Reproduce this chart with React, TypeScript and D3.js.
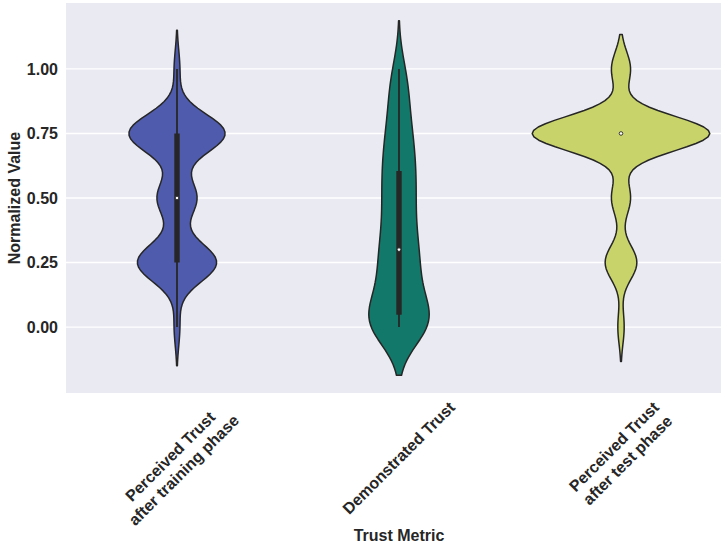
import React, { useEffect, useRef } from "react";
import * as d3 from "d3";

// categories on the x axis (newline = second line of the tick label)
const categories = [
  "Perceived Trust\nafter training phase",
  "Demonstrated Trust",
  "Perceived Trust\nafter test phase",
];

// likert answers (normalized) and how many participants picked each
const likertLevels = [0, 0.25, 0.5, 0.75, 1];
const trainingCounts = [1, 14, 7, 17, 1];
const testCounts = [1, 5, 3, 28, 3];

// demonstrated trust per participant
const demonstratedValues = [
  0, 0, 0, 0, 0, 0, 0.02, 0.03, 0.04, 0.04,
  0.05, 0.1, 0.12, 0.15, 0.18, 0.2, 0.22, 0.25, 0.28, 0.29,
  0.31, 0.35, 0.38, 0.4, 0.45, 0.48, 0.5, 0.53, 0.57, 0.6,
  0.62, 0.65, 0.7, 0.72, 0.75, 0.8, 0.85, 0.9, 0.95, 1.0,
];

const yTicks = [0, 0.25, 0.5, 0.75, 1];

const palette = ["#4f5bad", "#11786a", "#c8d36a"];
const gray = "#262626";
const font = "'Liberation Sans', Arial, Helvetica, sans-serif";

const expand = (levels: number[], counts: number[]) =>
  levels.flatMap((v, i) => d3.range(counts[i]).map(() => v));

// seaborn-ish kde: bw = factor * std, cut = 2, 100 grid points
const kde = (values: number[], bwFactor = 0.3, cut = 2, gridsize = 100) => {
  const n = values.length;
  const h = bwFactor * (d3.deviation(values) || 0);
  const lo = (d3.min(values) as number) - cut * h;
  const hi = (d3.max(values) as number) + cut * h;
  const norm = n * h * Math.sqrt(2 * Math.PI);
  return d3.range(gridsize).map((i) => {
    const v = lo + ((hi - lo) * i) / (gridsize - 1);
    const d = d3.sum(values, (x) => Math.exp(-0.5 * ((v - x) / h) ** 2)) / norm;
    return { v, d };
  });
};

const boxStats = (values: number[]) => {
  const s = values.slice().sort(d3.ascending);
  const q1 = d3.quantileSorted(s, 0.25) as number;
  const med = d3.quantileSorted(s, 0.5) as number;
  const q3 = d3.quantileSorted(s, 0.75) as number;
  const lim = 1.5 * (q3 - q1);
  const lo = d3.min(s.filter((x) => x >= q1 - lim)) as number;
  const hi = d3.max(s.filter((x) => x <= q3 + lim)) as number;
  return { q1, med, q3, lo, hi };
};

const App = () => {
  const ref: any = useRef();
  const width = 721;
  const height = 548;
  const margin = { top: 3, left: 66, bottom: 155 };
  const plotW = 666;
  const plotH = height - margin.top - margin.bottom;

  useEffect(() => {
    const svg = d3.select(ref.current);
    svg.selectAll("*").remove();

    const groups = [
      expand(likertLevels, trainingCounts),
      demonstratedValues,
      expand(likertLevels, testCounts),
    ];
    const curves = groups.map((g) => kde(g));
    const stats = groups.map(boxStats);

    const lo = d3.min(curves, (c) => c[0].v) as number;
    const hi = d3.max(curves, (c) => c[c.length - 1].v) as number;
    const pad = (hi - lo) * 0.05;

    const x = d3
      .scaleBand()
      .domain(categories)
      .range([margin.left, margin.left + plotW]);
    const y = d3
      .scaleLinear()
      .domain([lo - pad, hi + pad])
      .range([margin.top + plotH, margin.top]);

    // scale="area": widest density gets 0.8 of the band
    const maxD = d3.max(curves, (c) => d3.max(c, (p) => p.d)) as number;
    const w = d3.scaleLinear().domain([0, maxD]).range([0, x.bandwidth() * 0.4]);

    svg
      .append("rect")
      .attr("x", margin.left)
      .attr("y", margin.top)
      .attr("width", plotW)
      .attr("height", plotH)
      .attr("fill", "#eaeaf2");

    // grid
    svg
      .append("g")
      .selectAll("line")
      .data(yTicks)
      .join("line")
      .attr("x1", margin.left)
      .attr("x2", margin.left + plotW)
      .attr("y1", (d) => y(d))
      .attr("y2", (d) => y(d))
      .attr("stroke", "#ffffff")
      .attr("stroke-width", 1.3);

    // y tick labels
    svg
      .append("g")
      .selectAll("text")
      .data(yTicks)
      .join("text")
      .attr("x", margin.left - 8)
      .attr("y", (d) => y(d) + 5.7)
      .attr("text-anchor", "end")
      .attr("font-family", font)
      .attr("font-weight", "bold")
      .attr("font-size", 16)
      .attr("fill", gray)
      .text((d) => d3.format(".2f")(d));

    // violins
    categories.forEach((cat, i) => {
      const cx = (x(cat) as number) + x.bandwidth() / 2;
      const area = d3
        .area<{ v: number; d: number }>()
        .y((p) => y(p.v))
        .x0((p) => cx - w(p.d))
        .x1((p) => cx + w(p.d));

      svg
        .append("path")
        .attr("d", area(curves[i]) as string)
        .attr("fill", palette[i])
        .attr("stroke", gray)
        .attr("stroke-width", 1.5)
        .attr("stroke-linejoin", "round");

      const s = stats[i];
      // whisker
      svg
        .append("line")
        .attr("x1", cx)
        .attr("x2", cx)
        .attr("y1", y(s.lo))
        .attr("y2", y(s.hi))
        .attr("stroke", gray)
        .attr("stroke-width", 1.8);
      // box
      svg
        .append("line")
        .attr("x1", cx)
        .attr("x2", cx)
        .attr("y1", y(s.q1))
        .attr("y2", y(s.q3))
        .attr("stroke", gray)
        .attr("stroke-width", 5.4);
      // median
      svg
        .append("circle")
        .attr("cx", cx)
        .attr("cy", y(s.med))
        .attr("r", 1.8)
        .attr("fill", "#ffffff")
        .attr("stroke", gray)
        .attr("stroke-width", 0.9);

      // rotated tick label, bbox centred under the tick (like matplotlib)
      const t = svg
        .append("text")
        .attr("text-anchor", "middle")
        .attr("font-family", font)
        .attr("font-weight", "bold")
        .attr("font-size", 16)
        .attr("fill", gray);
      cat.split("\n").forEach((ln, k) =>
        t
          .append("tspan")
          .attr("x", 0)
          .attr("dy", k === 0 ? 0 : 19.2)
          .text(ln)
      );
      const b = (t.node() as SVGTextElement).getBBox();
      const half = (b.width + b.height) / (2 * Math.SQRT2);
      t.attr(
        "transform",
        `translate(${cx},${margin.top + plotH + 5 + half}) rotate(-45) translate(${-(b.x + b.width / 2)},${-(b.y + b.height / 2)})`
      );
    });

    // axis titles
    svg
      .append("text")
      .attr("x", margin.left + plotW / 2)
      .attr("y", 540.5)
      .attr("text-anchor", "middle")
      .attr("font-family", font)
      .attr("font-weight", "bold")
      .attr("font-size", 16)
      .attr("fill", gray)
      .text("Trust Metric");

    svg
      .append("text")
      .attr("transform", `translate(20,${y(0.5)}) rotate(-90)`)
      .attr("text-anchor", "middle")
      .attr("font-family", font)
      .attr("font-weight", "bold")
      .attr("font-size", 16)
      .attr("fill", gray)
      .text("Normalized Value");
  }, [plotH]);

  return (
    <svg
      ref={ref}
      width={width}
      height={height}
      style={{ position: "absolute", left: 0, top: 0, background: "#ffffff" }}
    ></svg>
  );
};

export default App;
